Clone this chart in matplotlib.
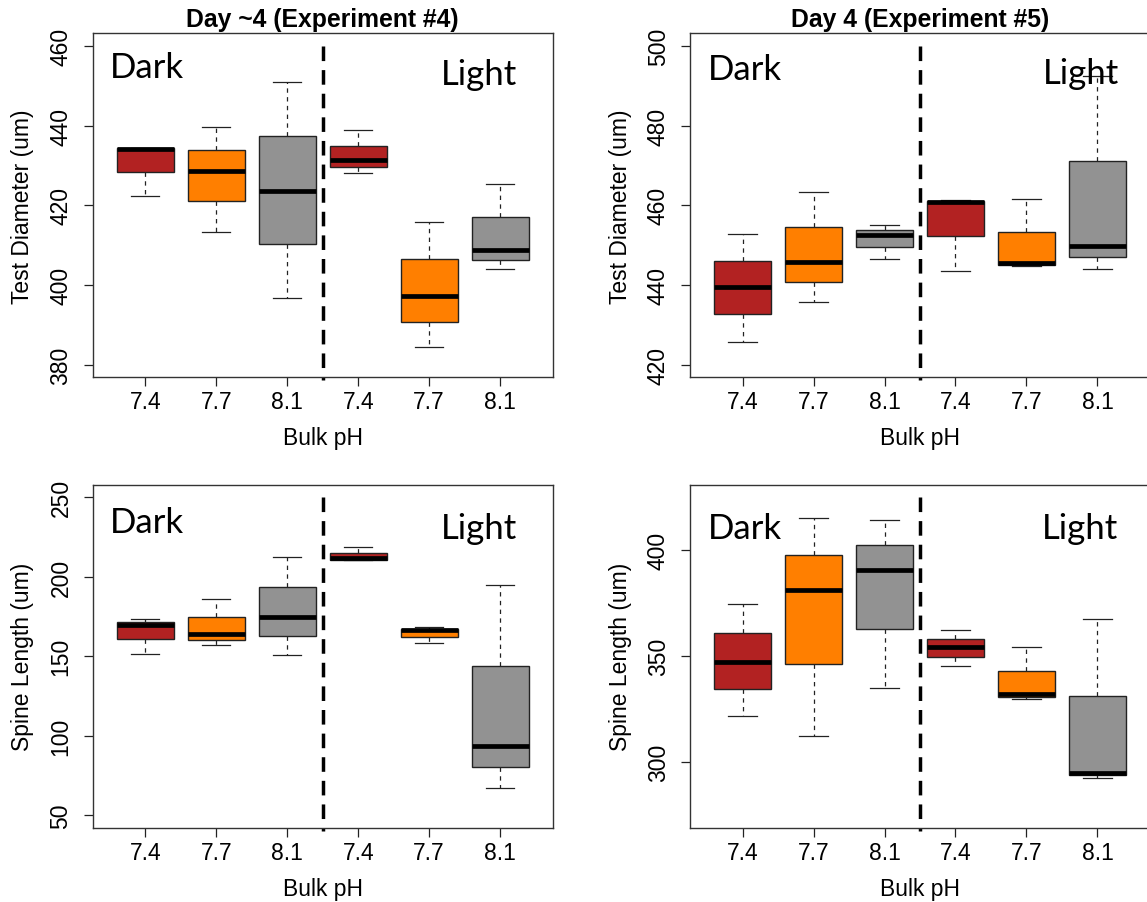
import matplotlib
matplotlib.use('Agg')
import matplotlib.pyplot as plt

plt.rcParams['font.family'] = ['Liberation Sans', 'DejaVu Sans']

ph_labels = ['7.4', '7.7', '8.1', '7.4', '7.7', '8.1']
box_colors = ['#B22222', '#FF7F00', '#929292'] * 2

# Test diameter, Day ~4 (Experiment #4)
td4_lo = [422.4, 413.4, 396.6, 428.0, 384.4, 403.9]
td4_q1 = [428.3, 421.0, 410.3, 429.6, 390.8, 406.2]
td4_med = [434.1, 428.6, 423.7, 431.3, 397.1, 408.7]
td4_q3 = [434.5, 434.0, 437.4, 435.0, 406.5, 417.0]
td4_hi = [434.5, 439.7, 451.0, 438.8, 415.9, 425.3]

# Test diameter, Day 4 (Experiment #5)
td5_lo = [425.6, 435.7, 446.6, 443.6, 444.7, 443.9]
td5_q1 = [432.6, 440.8, 449.6, 452.2, 445.0, 446.9]
td5_med = [439.5, 445.8, 452.6, 460.9, 445.4, 449.7]
td5_q3 = [446.1, 454.5, 453.9, 461.1, 453.4, 471.2]
td5_hi = [452.8, 463.4, 455.1, 461.3, 461.5, 492.6]

# Spine length, Experiment #4
sl4_lo = [151.7, 157.1, 150.8, 210.8, 158.6, 67.2]
sl4_q1 = [160.7, 160.3, 163.0, 210.8, 162.4, 80.4]
sl4_med = [169.7, 164.0, 175.0, 211.8, 166.4, 93.4]
sl4_q3 = [171.6, 175.0, 193.8, 215.2, 167.4, 144.1]
sl4_hi = [173.7, 186.3, 212.5, 219.0, 168.7, 195.1]

# Spine length, Experiment #5
sl5_lo = [321.7, 312.3, 335.0, 345.4, 330.1, 292.4]
sl5_q1 = [334.5, 346.6, 362.8, 349.9, 331.0, 294.0]
sl5_med = [347.1, 381.1, 390.7, 354.5, 332.1, 295.0]
sl5_q3 = [360.9, 398.0, 402.5, 358.3, 343.3, 331.2]
sl5_hi = [374.6, 415.1, 414.3, 362.2, 354.3, 367.4]


def draw_panel(ax, lo, q1, med, q3, hi, ylim, yticks, ylabel, title, dark_y, light_x, light_y):
    stats = []
    for i in range(len(med)):
        stats.append({'whislo': lo[i], 'q1': q1[i], 'med': med[i],
                      'q3': q3[i], 'whishi': hi[i]})
    pos = list(range(1, len(med) + 1))
    bp = ax.bxp(stats, positions=pos, widths=0.8, capwidths=0.4,
                showfliers=False, patch_artist=True,
                boxprops=dict(edgecolor='#222222', linewidth=1.0),
                medianprops=dict(color='black', linewidth=3.4, solid_capstyle='butt'),
                whiskerprops=dict(color='#222222', linewidth=0.9, linestyle=(0, (3.5, 3.5))),
                capprops=dict(color='#222222', linewidth=0.9))
    for patch, c in zip(bp['boxes'], box_colors):
        patch.set_facecolor(c)

    span = ylim[1] - ylim[0]
    bottom = ylim[0] - 0.04 * span
    ax.set_ylim(bottom, ylim[1] + 0.04 * span)
    ax.set_xlim(0.26, 6.74)
    ax.plot([3.5, 3.5], [ylim[1], bottom - 0.008 * span], color='black', lw=2.5,
            dashes=(4.2, 2.6), solid_capstyle='butt', clip_on=False)

    ax.set_xticks(pos)
    ax.set_xticklabels(ph_labels)
    ax.set_yticks(yticks)
    ax.set_yticklabels([str(v) for v in yticks], rotation=90, va='center')
    ax.tick_params(axis='both', direction='out', length=6.5, width=0.9,
                   labelsize=16.5, color='#222222')
    ax.tick_params(axis='x', pad=3)
    ax.tick_params(axis='y', pad=8)
    for s in ax.spines.values():
        s.set_linewidth(1.0)
        s.set_color('#333333')

    ax.set_xlabel('Bulk pH', fontsize=16.5, va='baseline')
    ax.xaxis.set_label_coords(0.5, -0.194)
    ax.set_ylabel(ylabel, fontsize=16.5, va='center')
    ax.yaxis.set_label_coords(-0.152, 0.5)
    if title:
        ax.set_title(title, fontsize=17.8, fontweight='bold', pad=5)

    ax.text(0.038, dark_y, 'Dark', transform=ax.transAxes, fontsize=25,
            family=['Lato', 'DejaVu Sans'], va='baseline', ha='left')
    ax.text(light_x, light_y, 'Light', transform=ax.transAxes, fontsize=25,
            family=['Lato', 'DejaVu Sans'], va='baseline', ha='left')


fig = plt.figure(figsize=(11.47, 9.03), dpi=100)
W, H = 1147.0, 903.0
ax1 = fig.add_axes([92.7 / W, (H - 378.3) / H, 460 / W, 344 / H])
ax2 = fig.add_axes([690 / W, (H - 378.3) / H, 460 / W, 344 / H])
ax3 = fig.add_axes([92.7 / W, (H - 829) / H, 460 / W, 343.3 / H])
ax4 = fig.add_axes([690 / W, (H - 829) / H, 460 / W, 343.3 / H])

draw_panel(ax1, td4_lo, td4_q1, td4_med, td4_q3, td4_hi, (380, 460),
           [380, 400, 420, 440, 460], 'Test Diameter (um)',
           'Day ~4 (Experiment #4)', 0.874, 0.757, 0.853)
draw_panel(ax2, td5_lo, td5_q1, td5_med, td5_q3, td5_hi, (420, 500),
           [420, 440, 460, 480, 500], 'Test Diameter (um)',
           'Day 4 (Experiment #5)', 0.867, 0.767, 0.856)
draw_panel(ax3, sl4_lo, sl4_q1, sl4_med, sl4_q3, sl4_hi, (50, 250),
           [50, 100, 150, 200, 250], 'Spine Length (um)', None, 0.862, 0.757, 0.845)
draw_panel(ax4, sl5_lo, sl5_q1, sl5_med, sl5_q3, sl5_hi, (275, 425),
           [300, 350, 400], 'Spine Length (um)', None, 0.845, 0.765, 0.845)

fig.savefig('out.png', dpi=100)
